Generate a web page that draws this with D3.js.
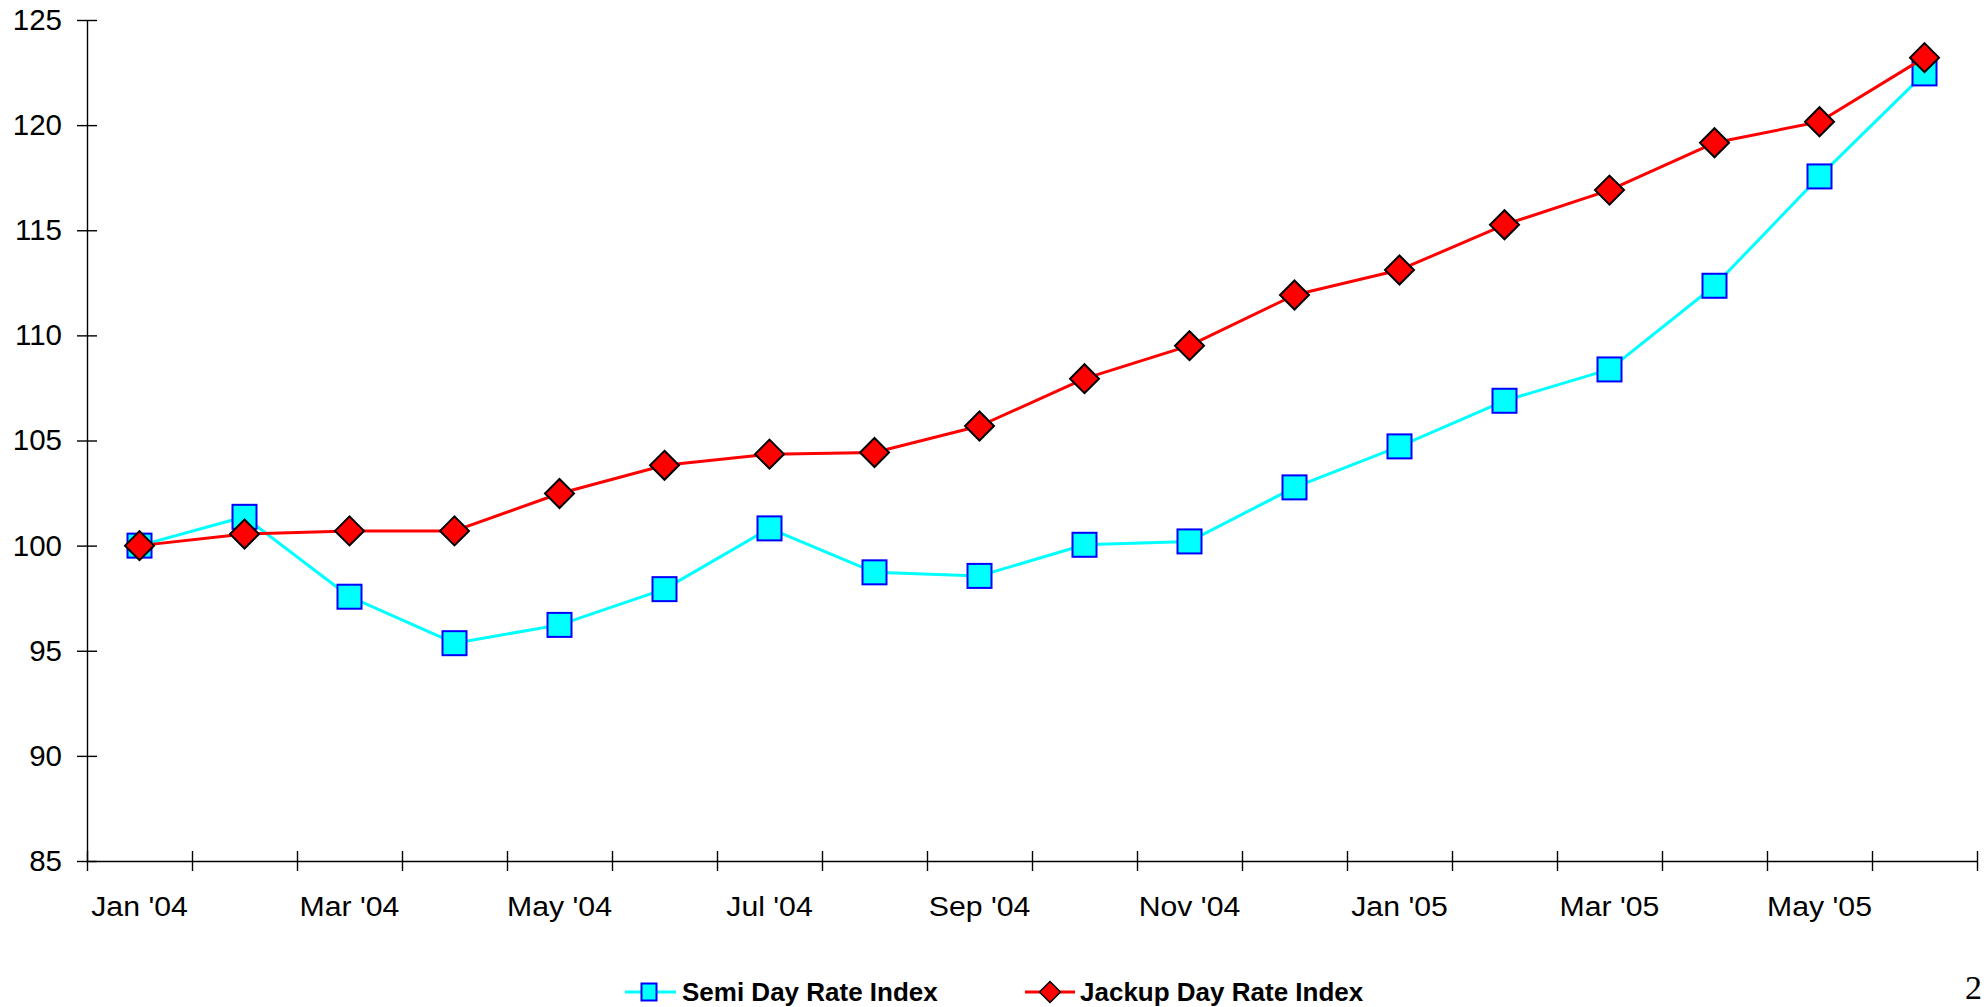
<!DOCTYPE html>
<html>
<head>
<meta charset="utf-8">
<script src="https://cdn.jsdelivr.net/npm/d3@7"></script>
<style>
  html, body { margin: 0; padding: 0; background: #fff; }
  svg { display: block; }
  text { font-family: "Liberation Sans", Arial, sans-serif; fill: #000; }
</style>
</head>
<body>
<svg id="chart" width="1988" height="1007"></svg>
<script>
// Monthly day-rate indices, Jan 2004 = 100
const months = ["Jan '04", "Feb '04", "Mar '04", "Apr '04", "May '04", "Jun '04",
                "Jul '04", "Aug '04", "Sep '04", "Oct '04", "Nov '04", "Dec '04",
                "Jan '05", "Feb '05", "Mar '05", "Apr '05", "May '05", "Jun '05"];
const semiIndex = [100.0, 101.37, 97.57, 95.36, 96.23, 97.93, 100.82, 98.73, 98.56,
                   100.04, 100.2, 102.77, 104.72, 106.89, 108.38, 112.36, 117.56, 122.46];
const jackupIndex = [100.0, 100.55, 100.7, 100.7, 102.48, 103.82, 104.35, 104.43, 105.69,
                     107.94, 109.51, 111.92, 113.11, 115.26, 116.91, 119.16, 120.16, 123.21];
const yTicks = [85, 90, 95, 100, 105, 110, 115, 120, 125];
const seriesNames = ["Semi Day Rate Index", "Jackup Day Rate Index"];

const svg = d3.select("#chart");
const plot = { left: 87, right: 1977, top: 20, bottom: 861 };

const x = d3.scaleBand().domain(months).range([plot.left, plot.right]).padding(0);
const xEdge = d3.scaleLinear().domain([0, months.length]).range([plot.left, plot.right]);
const y = d3.scaleLinear().domain([85, 125]).range([plot.bottom, plot.top]);

// Y axis with ticks crossing the axis line
const yAxis = svg.append("g")
  .attr("transform", `translate(${plot.left},0)`)
  .call(d3.axisLeft(y).tickValues(yTicks).tickSizeOuter(0).tickSizeInner(10).tickPadding(15));
yAxis.select(".domain").attr("stroke", "#000").attr("stroke-width", 1.4);
yAxis.selectAll(".tick line").attr("x1", 10).attr("x2", -10).attr("stroke", "#000").attr("stroke-width", 1.4);
yAxis.selectAll(".tick text").style("font-size", "29.5px").attr("font-family", null);

// X axis: tick marks on category boundaries
const xTickAxis = svg.append("g")
  .attr("transform", `translate(0,${plot.bottom})`)
  .call(d3.axisBottom(xEdge).tickValues(d3.range(months.length + 1)).tickFormat("").tickSizeOuter(0).tickSizeInner(10));
xTickAxis.select(".domain").attr("stroke", "#000").attr("stroke-width", 1.4);
xTickAxis.selectAll(".tick line").attr("y1", -10).attr("y2", 10).attr("stroke", "#000").attr("stroke-width", 1.4);

// X axis labels: every other month, centred on the category (slightly wide lettering)
const xLabelAxis = svg.append("g")
  .attr("transform", `translate(0,${plot.bottom})`)
  .call(d3.axisBottom(x).tickValues(months.filter((d, i) => i % 2 === 0)).tickSize(0).tickPadding(35.5));
xLabelAxis.select(".domain").remove();
xLabelAxis.selectAll(".tick text")
  .style("font-size", "27px").attr("font-family", null)
  .attr("transform", "scale(1.12,1)");

const cx = d => x(d) + x.bandwidth() / 2;

const line = d3.line()
  .x((d, i) => cx(months[i]))
  .y(d => y(d));

// Semi series: cyan line, cyan squares with blue outline
svg.append("path").datum(semiIndex)
  .attr("fill", "none").attr("stroke", "#00FFFF").attr("stroke-width", 3)
  .attr("stroke-linejoin", "round").attr("d", line);

const sq = 24;
svg.append("g").selectAll("rect").data(semiIndex).join("rect")
  .attr("x", (d, i) => cx(months[i]) - sq / 2)
  .attr("y", d => y(d) - sq / 2)
  .attr("width", sq).attr("height", sq)
  .attr("fill", "#00FFFF").attr("stroke", "#0000FF").attr("stroke-width", 2);

// Jackup series: red line, red diamonds with black outline
svg.append("path").datum(jackupIndex)
  .attr("fill", "none").attr("stroke", "#FF0000").attr("stroke-width", 3)
  .attr("stroke-linejoin", "round").attr("d", line);

const dh = 14.5;
const diamond = (px, py, r) => `M${px},${py - r}L${px + r},${py}L${px},${py + r}L${px - r},${py}Z`;
svg.append("g").selectAll("path").data(jackupIndex).join("path")
  .attr("d", (d, i) => diamond(cx(months[i]), y(d), dh))
  .attr("fill", "#FF0000").attr("stroke", "#000").attr("stroke-width", 2)
  .attr("stroke-linejoin", "miter");

// Legend
const legendY = 992;
const legend = svg.append("g");
legend.append("line").attr("x1", 625).attr("x2", 676).attr("y1", legendY).attr("y2", legendY)
  .attr("stroke", "#00FFFF").attr("stroke-width", 3);
legend.append("rect").attr("x", 649 - 7.5).attr("y", legendY - 8.5).attr("width", 15).attr("height", 17)
  .attr("fill", "#00FFFF").attr("stroke", "#0000FF").attr("stroke-width", 2);
legend.append("text").attr("x", 682).attr("y", 1001)
  .style("font-size", "26px").style("font-weight", "bold").text(seriesNames[0]);

legend.append("line").attr("x1", 1025).attr("x2", 1075).attr("y1", legendY).attr("y2", legendY)
  .attr("stroke", "#FF0000").attr("stroke-width", 3);
legend.append("path").attr("d", diamond(1050, legendY, 10.5))
  .attr("fill", "#FF0000").attr("stroke", "#000").attr("stroke-width", 1.5);
legend.append("text").attr("x", 1080).attr("y", 1001)
  .style("font-size", "26px").style("font-weight", "bold").text(seriesNames[1]);

// Page number at the bottom-right corner
svg.append("text").attr("x", 1965).attr("y", 999)
  .style("font-family", "'Liberation Serif', 'Times New Roman', serif").style("font-size", "34px")
  .text("2");
</script>
</body>
</html>
